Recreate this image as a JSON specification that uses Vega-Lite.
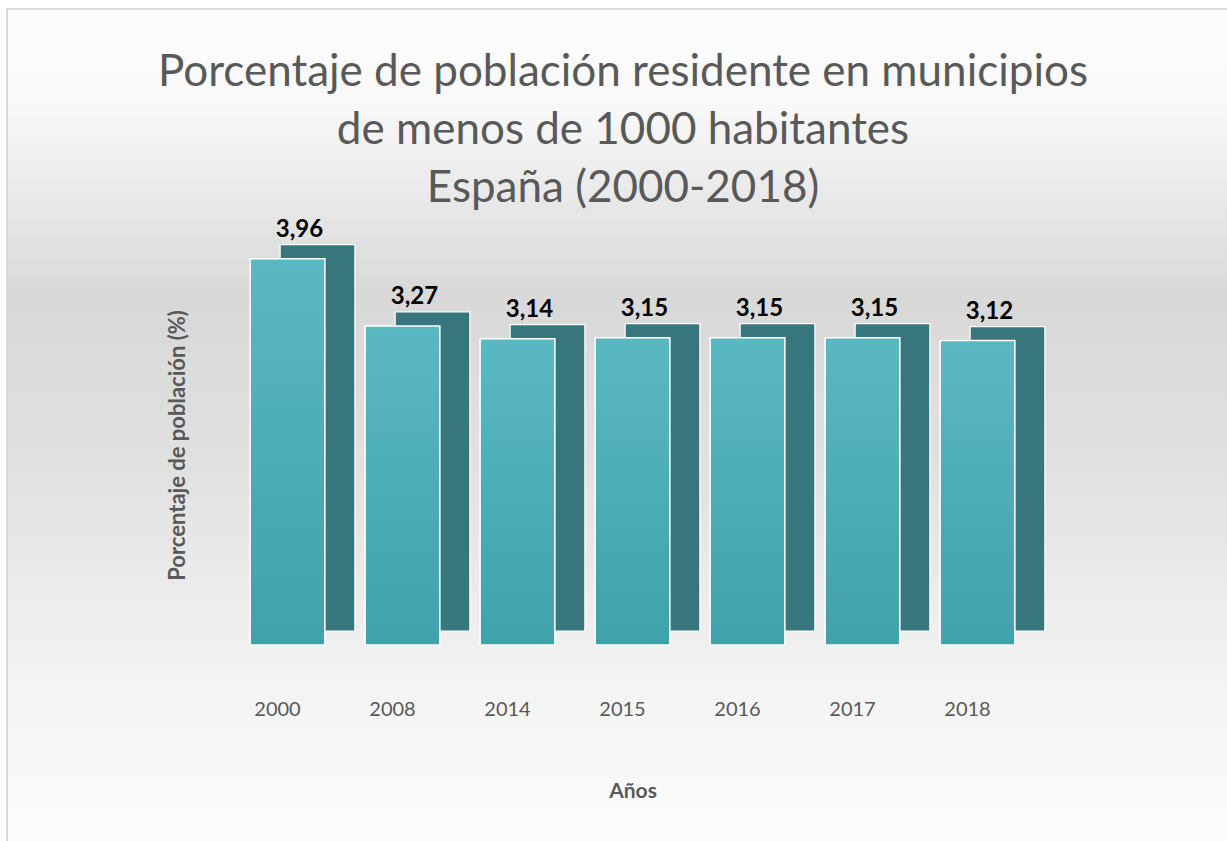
{
  "$schema": "https://vega.github.io/schema/vega-lite/v6.json",
  "width": 1224,
  "height": 836,
  "autosize": {"type": "none"},
  "padding": {"left": 7, "top": 9, "right": 0, "bottom": 0},
  "background": "#ffffff",
  "view": {
    "fill": {
      "gradient": "linear", "x1": 0, "y1": 0, "x2": 0, "y2": 1,
      "stops": [
        {"offset": 0, "color": "#fdfdfd"},
        {"offset": 0.12, "color": "#f8f8f8"},
        {"offset": 0.34, "color": "#d8d8d8"},
        {"offset": 0.55, "color": "#e1e1e1"},
        {"offset": 0.82, "color": "#f4f4f4"},
        {"offset": 1, "color": "#fcfcfc"}
      ]
    },
    "stroke": "#d9d9d9",
    "strokeWidth": 2
  },
  "config": {
    "locale": {"number": {"decimal": ",", "thousands": ".", "grouping": [3], "currency": ["", " €"]}},
    "font": "Lato"
  },
  "title": {
    "text": ["Porcentaje de población residente en municipios", "de menos de 1000 habitantes", "España (2000-2018)"],
    "font": "Lato",
    "fontSize": 44,
    "fontWeight": "normal",
    "color": "#595959",
    "lineHeight": 58,
    "anchor": "middle",
    "frame": "group",
    "dx": 4,
    "offset": -202
  },
  "data": {
    "values": [
      {"anio": "2000", "pct": 3.96},
      {"anio": "2008", "pct": 3.27},
      {"anio": "2014", "pct": 3.14},
      {"anio": "2015", "pct": 3.15},
      {"anio": "2016", "pct": 3.15},
      {"anio": "2017", "pct": 3.15},
      {"anio": "2018", "pct": 3.12}
    ]
  },
  "encoding": {
    "x": {
      "field": "anio",
      "type": "ordinal",
      "scale": {"range": [223, 1028], "paddingInner": 0.35, "paddingOuter": 0.175},
      "axis": {
        "title": "Años",
        "orient": "bottom",
        "offset": -196,
        "labelAngle": 0,
        "domain": false,
        "ticks": false,
        "labelPadding": 50,
        "labelOffset": -10,
        "labelFontSize": 20,
        "labelColor": "#595959",
        "labelFont": "Lato",
        "titleFont": "Lato",
        "titleFontSize": 21,
        "titleFontWeight": "bold",
        "titleColor": "#595959",
        "titlePadding": 61
      }
    },
    "y": {
      "field": "pct",
      "type": "quantitative",
      "scale": {"domain": [0, 4.1], "range": [636, 236], "zero": true, "nice": false},
      "axis": {
        "title": "Porcentaje de población (%)",
        "orient": "left",
        "offset": -190,
        "labels": false,
        "ticks": false,
        "domain": false,
        "grid": false,
        "titleFont": "Lato",
        "titleFontSize": 22,
        "titleFontWeight": "bold",
        "titleColor": "#595959",
        "titlePadding": 8
      }
    }
  },
  "layer": [
    {
      "mark": {"type": "bar", "color": "#36767c", "xOffset": 30, "yOffset": -14, "y2Offset": -14, "stroke": "#ffffff", "strokeWidth": 1.2}
    },
    {
      "mark": {
        "type": "bar",
        "stroke": "#ffffff",
        "strokeWidth": 1.5,
        "color": {
          "gradient": "linear", "x1": 0, "y1": 0, "x2": 0, "y2": 1,
          "stops": [
            {"offset": 0, "color": "#5ab8c2"},
            {"offset": 1, "color": "#40a2ab"}
          ]
        }
      }
    },
    {
      "mark": {"type": "text", "fontSize": 24, "fontWeight": "bold", "color": "#000000", "font": "Lato", "baseline": "bottom", "dx": 12, "dy": -17},
      "encoding": {"text": {"field": "pct", "type": "quantitative", "format": ".2f"}}
    }
  ]
}
